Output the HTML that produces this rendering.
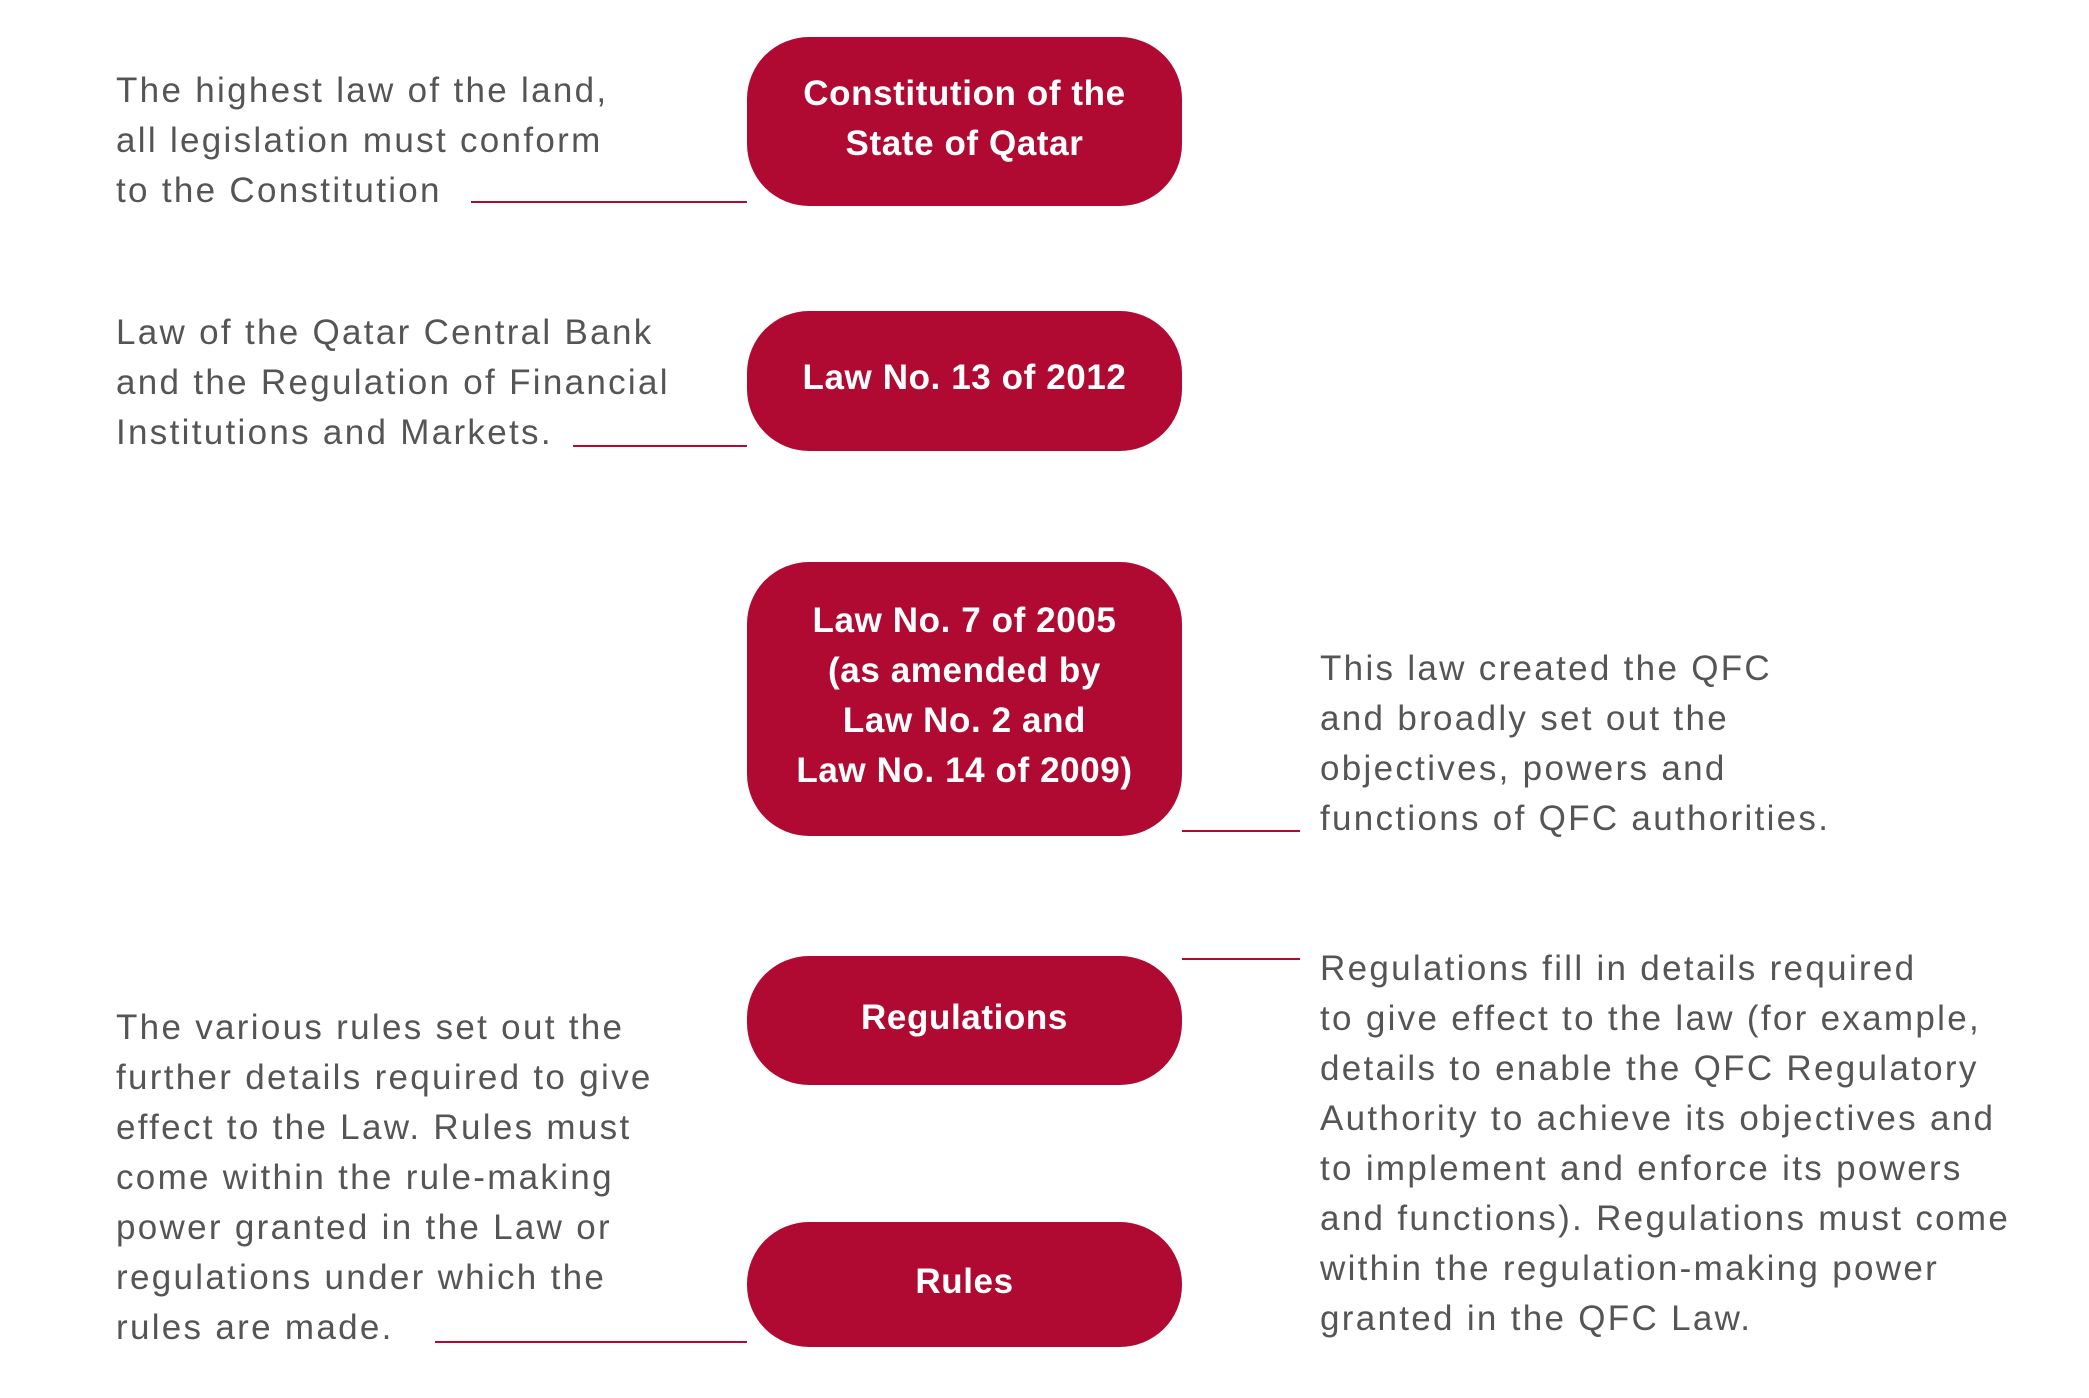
<!DOCTYPE html>
<html><head><meta charset="utf-8"><style>
body{margin:0;width:2089px;height:1398px;background:#fff;position:relative;overflow:hidden;font-family:"Liberation Sans",sans-serif}
.b{position:absolute;left:747px;width:435px;background:#b10a32;border-radius:62px;color:#fff;font-weight:bold;font-size:35px;letter-spacing:0.6px;line-height:50px;text-align:center;display:flex;align-items:center;justify-content:center}
.b div{margin-top:-6px}
.t{position:absolute;color:#555;font-size:35px;letter-spacing:2.3px;line-height:50px;white-space:pre}
.l{position:absolute;height:2px;background:#b10a32}
</style></head><body>
<div class="b" style="top:37px;height:169px"><div>Constitution of the<br>State of Qatar</div></div>
<div class="b" style="top:311px;height:140px"><div>Law No. 13 of 2012</div></div>
<div class="b" style="top:562px;height:274px"><div>Law No. 7 of 2005<br>(as amended by<br>Law No. 2 and<br>Law No. 14 of 2009)</div></div>
<div class="b" style="top:956px;height:129px"><div>Regulations</div></div>
<div class="b" style="top:1222px;height:125px"><div>Rules</div></div>

<div class="t" style="left:116px;top:66px">The highest law of the land,
all legislation must conform
to the Constitution</div>
<div class="t" style="left:116px;top:308px">Law of the Qatar Central Bank
and the Regulation of Financial
Institutions and Markets.</div>
<div class="t" style="left:116px;top:1003px">The various rules set out the
further details required to give
effect to the Law. Rules must
come within the rule-making
power granted in the Law or
regulations under which the
rules are made.</div>
<div class="t" style="left:1320px;top:644px">This law created the QFC
and broadly set out the
objectives, powers and
functions of QFC authorities.</div>
<div class="t" style="left:1320px;top:944px">Regulations fill in details required
to give effect to the law (for example,
details to enable the QFC Regulatory
Authority to achieve its objectives and
to implement and enforce its powers
and functions). Regulations must come
within the regulation-making power
granted in the QFC Law.</div>

<div class="l" style="left:471px;width:276px;top:201px"></div>
<div class="l" style="left:573px;width:174px;top:445px"></div>
<div class="l" style="left:1182px;width:118px;top:830px"></div>
<div class="l" style="left:1182px;width:118px;top:958px"></div>
<div class="l" style="left:435px;width:312px;top:1341px"></div>
</body></html>
